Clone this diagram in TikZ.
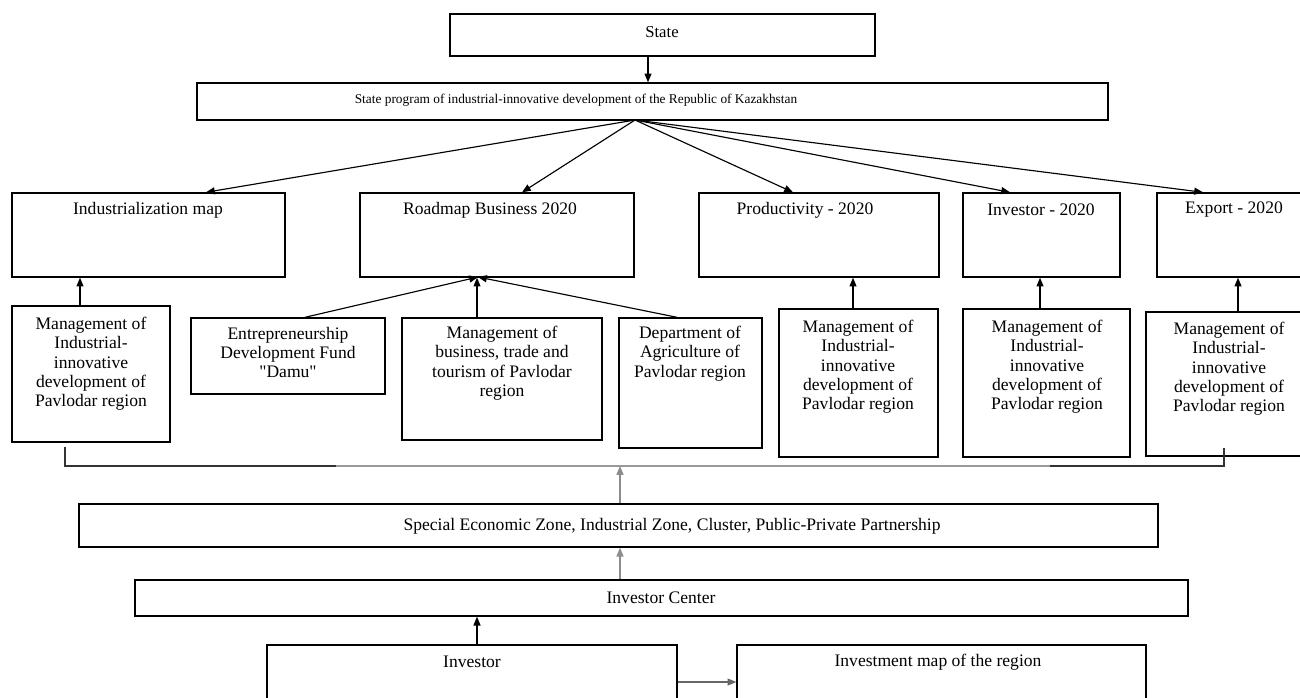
\documentclass[tikz,border=0pt]{standalone}
\usepackage{fontspec}
\setmainfont{Liberation Serif}[Ligatures=TeXOff]
\usetikzlibrary{arrows.meta,fit}
\begin{document}
\begin{tikzpicture}[x=0.02cm,y=-0.02cm,
  box/.style={draw, line width=0.8pt, inner sep=0pt},
  lbl/.style={font=\fontsize{10}{10.9}\selectfont, align=center, inner sep=0pt},
  small/.style={font=\fontsize{7.6}{9}\selectfont, inner sep=0pt},
  conn/.style={line width=0.65pt, -{Triangle[length=5pt,width=4pt]}},
  gconn/.style={conn, draw=black!45},
]
\useasboundingbox (0,0) rectangle (1300,697);
% top
\node[box, fit={(450,14) (875,56)}] (state) {};
\node[lbl, font=\fontsize{9.5}{10}\selectfont] (tstate) at (662,32) {State};
\node[box, fit={(197,83) (1108,120)}] (prog) {};
\node[small] (tprog) at (576,100) {State program of industrial-innovative development of the Republic of Kazakhstan};
\draw[conn] (648,0 |- state.south) -- (648,0 |- prog.north);
% row 2
\node[box, fit={(12,193) (285,277)}] (ind) {};
\node[lbl] (tind) at (148,210) {Industrialization map};
\node[box, fit={(360,193) (634,277)}] (road) {};
\node[lbl] (troad) at (490,210) {Roadmap Business 2020};
\node[box, fit={(699,193) (939,277)}] (prod) {};
\node[lbl] (tprod) at (805,210) {Productivity - 2020};
\node[box, fit={(963,193) (1120,277)}] (inv) {};
\node[lbl] (tinv) at (1041,210) {Investor - 2020};
\node[box, fit={(1157,193) (1303,277)}] (exp) {};
\node[lbl] (texp) at (1234,210) {Export - 2020};
\coordinate (fan) at (635,120);
\draw[conn] (fan) -- (206,0 |- ind.north);
\draw[conn] (fan) -- (522,0 |- road.north);
\draw[conn] (fan) -- (793,0 |- prod.north);
\draw[conn] (fan) -- (1010,0 |- inv.north);
\draw[conn] (fan) -- (1203,0 |- exp.north);
% management row
\node[box, fit={(12,306) (170,442)}] (m1) {};
\node[lbl, anchor=north] (tm1) at (91,317) {Management of\\Industrial-\\innovative\\development of\\Pavlodar region};
\node[box, fit={(191,318) (385,394)}] (ent) {};
\node[lbl, anchor=north] (tent) at (288,327) {Entrepreneurship\\Development Fund\\"Damu"};
\node[box, fit={(402,318) (602,440)}] (mbus) {};
\node[lbl, anchor=north] (tmbus) at (502,326) {Management of\\business, trade and\\tourism of Pavlodar\\region};
\node[box, fit={(619,318) (762,448)}] (dept) {};
\node[lbl, anchor=north] (tdept) at (690,326) {Department of\\Agriculture of\\Pavlodar region};
\node[box, fit={(779,309) (938,457)}] (mprod) {};
\node[lbl, anchor=north] (tmprod) at (858,320) {Management of\\Industrial-\\innovative\\development of\\Pavlodar region};
\node[box, fit={(963,309) (1130,457)}] (minv) {};
\node[lbl, anchor=north] (tminv) at (1047,320) {Management of\\Industrial-\\innovative\\development of\\Pavlodar region};
\node[box, fit={(1146,312) (1303,456)}] (mexp) {};
\node[lbl, anchor=north] (tmexp) at (1229,322) {Management of\\Industrial-\\innovative\\development of\\Pavlodar region};
\draw[conn] (80,0 |- m1.north) -- (80,0 |- ind.south);
\coordinate (rin) at (478,277);
\draw[conn] (305,0 |- ent.north) -- (rin);
\draw[conn] (477,0 |- mbus.north) -- (477,0 |- road.south);
\draw[conn] (677,0 |- dept.north) -- (rin);
\draw[conn] (853,0 |- mprod.north) -- (853,0 |- prod.south);
\draw[conn] (1040,0 |- minv.north) -- (1040,0 |- inv.south);
\draw[conn] (1238,0 |- mexp.north) -- (1238,0 |- exp.south);
% bracket line
\coordinate (bltop) at (65,447);
\coordinate (bl) at (65,466);
\coordinate (br) at (1224,466);
\coordinate (brtop) at (1224,448);
\coordinate (gl) at (336,466);
\coordinate (gr) at (1050,466);
\draw[line width=0.7pt, black!80] (bltop) -- (bl) -- (br) -- (brtop);
\draw[line width=0.9pt, black!40] (gl) -- (gr);
% lower part
\node[box, fit={(79,504) (1158,547)}] (sez) {};
\node[lbl] (tsez) at (672,526) {Special Economic Zone, Industrial Zone, Cluster, Public-Private Partnership};
\coordinate (bm) at (620,466);
\draw[gconn] (620,0 |- sez.north) -- (bm);
\node[box, fit={(135,580) (1188,616)}] (ic) {};
\node[lbl] (tic) at (661,598) {Investor Center};
\draw[gconn] (620,0 |- ic.north) -- (620,0 |- sez.south);
\node[box, fit={(267,645) (677,705)}] (investor) {};
\node[lbl] (tinvestor) at (472,662) {Investor};
\node[box, fit={(737,645) (1146,705)}] (imap) {};
\node[lbl] (timap) at (938,662) {Investment map of the region};
\draw[conn] (477,0 |- investor.north) -- (477,0 |- ic.south);
\draw[conn, draw=black!60] (investor.east |- 0,682) -- (imap.west |- 0,682);
\end{tikzpicture}
\end{document}
